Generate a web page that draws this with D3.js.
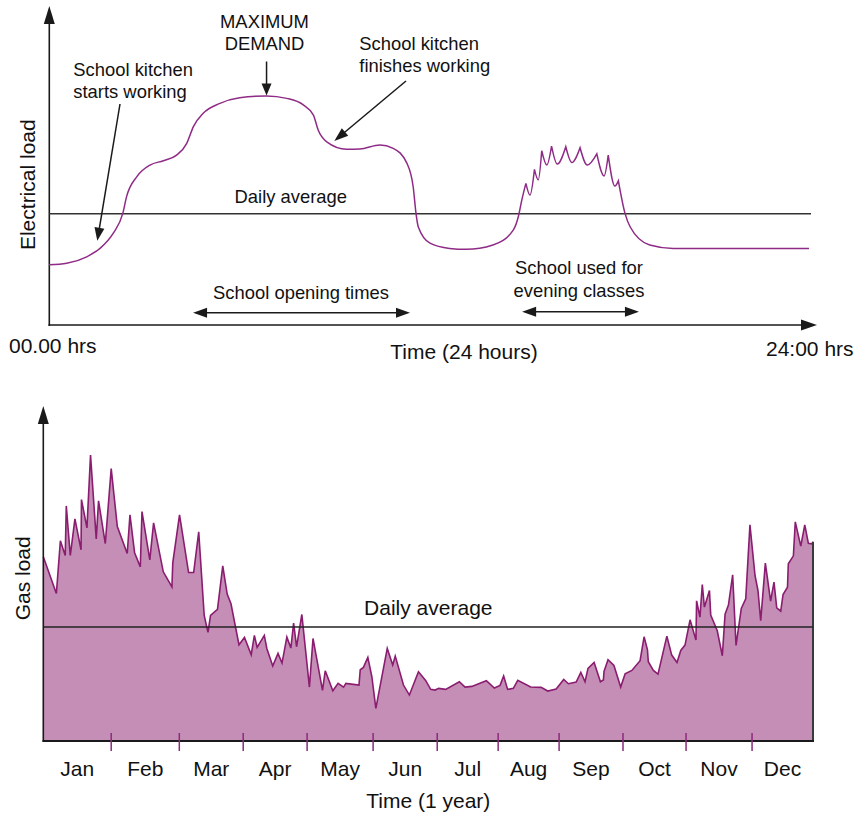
<!DOCTYPE html>
<html><head><meta charset="utf-8">
<script src="https://cdn.jsdelivr.net/npm/d3@7"></script>
<style>
body{margin:0;background:#fff}
svg{display:block}
text{font-family:"Liberation Sans",Arial,Helvetica,sans-serif;fill:#111}
</style>
</head><body>
<svg id="c" width="866" height="817"></svg>
<script>
// ---------- Top chart: electrical load over 24 hours ----------
const elecHours = [0,0.56,1.19,1.61,2.03,2.33,2.45,2.77,3.19,3.61,
  4.03,4.35,4.56,4.87,5.40,6.02,6.87,7.51,8.03,8.35,
  8.50,8.77,9.40,9.82,10.45,10.87,11.30,11.50,11.59,11.66,
  12.03,12.65,13.18,14.02,14.66,14.82,14.93,15.06,15.19,15.33,
  15.45,15.56,15.72,15.87,16.05,16.32,16.51,16.77,17.00,17.30,
  17.53,17.66,17.87,17.98,18.19,18.35,18.97,19.71,24];
const elecLoad = [19.4,19.9,22.0,24.7,29.6,36.0,41.4,47.8,51.6,53.0,
  54.8,58.6,64.0,68.3,71.5,73.3,73.9,73.1,71.0,67.7,
  62.9,59.1,56.7,56.8,58.1,57.0,52.2,44.6,36.0,31.7,
  26.4,24.7,24.4,25.8,30.6,34.9,40.3,45.7,41.9,50.2,
  46.8,56.2,51.6,57.7,51.9,57.5,52.4,57.2,51.6,55.2,
  48.1,54.8,44.8,46.5,36.0,31.7,25.8,24.7,24.7];
const elecPeakIdx = [37,39,41,43,45,47,49,51,53];
const elecAverage = 35.9;
const openingHours = [4.55, 11.4];
const eveningHours = [14.94, 18.63];
const maxDemandHour = 6.87;

// ---------- Bottom chart: gas load over one year ----------
const gasDays = [0,6.2,8.1,10.4,10.9,12.8,15.0,17.9,18.1,20.7,
  22.4,25.1,26.2,29.4,32.2,35.1,39.8,41.1,43.3,46.0,
  46.8,50.5,52.3,56.9,61.0,61.4,64.6,68.9,71.3,73.7,
  76.3,78.1,79.3,82.6,85.1,87.2,89.0,92.8,95.4,98.6,
  100.1,101.4,104.8,106.0,108.8,111.3,113.2,115.5,117.4,118.7,
  120.1,122.6,126.2,127.9,132.4,133.7,137.3,139.8,142.4,143.5,
  149.7,150.3,151.8,153.9,155.8,157.7,163.1,165.7,166.9,170.8,
  173.6,177.9,181.3,183.7,185.8,187.5,190.8,197.3,200.0,203.2,
  210.1,213.9,216.6,218.3,220.2,222.9,225.0,231.1,236.1,239.2,
  243.2,246.8,249.0,252.7,254.9,256.9,258.3,261.2,264.2,265.6,
  265.9,267.8,270.6,273.8,275.9,279.1,283.0,284.9,286.5,286.9,
  289.3,291.5,295.7,298.0,300.5,302.3,304.3,306.7,309.5,309.8,
  311.4,312.5,313.5,315.9,316.5,319.6,322.0,323.3,324.9,326.9,
  328.5,331.0,333.1,335.1,337.5,338.9,340.2,342.4,344.9,346.5,
  347.8,349.7,350.8,352.9,353.3,355.7,356.6,359.2,361.1,362.8,
  364.4,365];
const gasLoad = [55.3,44.3,60.1,55.7,70.6,55.7,66.7,57.4,72.5,64.0,
  85.9,60.7,72.1,59.3,81.8,64.4,56.3,67.9,56.5,52.3,
  68.9,54.4,65.5,50.8,46.3,53.5,67.9,50.6,50.6,62.8,
  37.7,32.6,37.7,39.5,52.6,44.1,41.2,28.9,31.1,25.9,
  31.7,28.1,31.7,27.8,22.5,26.3,23.4,31.2,27.9,35.4,
  28.3,38.0,16.2,30.8,15.2,21.1,15.1,17.3,16.2,17.3,
  16.8,21.4,22.1,25.1,19.3,9.8,27.8,22.8,25.5,16.8,
  13.8,20.8,18.2,15.5,15.3,15.8,15.5,17.8,16.2,16.4,
  18.1,15.9,16.7,19.5,15.5,15.8,18.2,16.2,16.1,15.0,
  15.6,18.5,17.2,17.7,20.6,17.8,21.8,23.6,17.8,18.3,
  20.9,24.4,22.7,16.2,20.2,21.2,24.1,31.3,27.4,23.8,
  21.2,20.1,31.5,25.8,23.6,27.2,28.8,36.4,30.3,42.1,
  37.2,47.0,40.2,45.2,37.8,33.1,25.6,38.1,40.8,49.9,
  28.7,39.8,42.7,64.9,49.7,45.2,36.1,53.4,42.0,47.7,
  40.0,39.0,44.0,46.2,53.2,55.6,65.8,58.5,64.9,59.4,
  59.2,59.8];
const gasAverage = 34.2;
const monthLabels = ["Jan","Feb","Mar","Apr","May","Jun","Jul","Aug","Sep","Oct","Nov","Dec"];
const monthBoundaries = [0,32.2,64.5,94.8,125.1,156.4,186.8,215.7,244.6,274.9,304.8,336.1,365];

// ---------- drawing ----------
const svg = d3.select("#c");
const INK = "#1a1a1a";
const PURPLE_LINE = "#8f2b86";
const GAS_LINE = "#8a1d6f";
const GAS_FILL = "#c48eb6";

function arrowHead(g, x1, y1, x2, y2, L, W) {
  const a = Math.atan2(y2 - y1, x2 - x1);
  const bx = x2 - L * Math.cos(a), by = y2 - L * Math.sin(a);
  const px = -Math.sin(a) * W / 2, py = Math.cos(a) * W / 2;
  g.append("path")
    .attr("d", `M${x2},${y2}L${bx + px},${by + py}L${bx - px},${by - py}Z`)
    .attr("fill", INK);
}
function arrow(g, x1, y1, x2, y2, L, W, both, sw) {
  const a = Math.atan2(y2 - y1, x2 - x1);
  const sx = both ? x1 + (L - 2) * Math.cos(a) : x1, sy = both ? y1 + (L - 2) * Math.sin(a) : y1;
  g.append("line")
    .attr("x1", sx).attr("y1", sy)
    .attr("x2", x2 - (L - 2) * Math.cos(a)).attr("y2", y2 - (L - 2) * Math.sin(a))
    .attr("stroke", INK).attr("stroke-width", sw || 1.5);
  arrowHead(g, x1, y1, x2, y2, L, W);
  if (both) arrowHead(g, x2, y2, x1, y1, L, W);
}

// ===== Top chart =====
const gTop = svg.append("g");
const xE = d3.scaleLinear().domain([0, 24]).range([49, 809]);
const yE = d3.scaleLinear().domain([0, 100]).range([325, 15]);

gTop.append("line").attr("x1", 49.3).attr("y1", 326).attr("x2", 49.3).attr("y2", 20)
  .attr("stroke", INK).attr("stroke-width", 1.6);
arrowHead(gTop, 49.3, 100, 49.3, 6, 18, 11);
gTop.append("line").attr("x1", 48.5).attr("y1", 325).attr("x2", 803).attr("y2", 325)
  .attr("stroke", INK).attr("stroke-width", 1.6);
arrowHead(gTop, 700, 325, 817, 325, 16, 11);

gTop.append("line").attr("x1", xE(0)).attr("x2", xE(24) + 2)
  .attr("y1", yE(elecAverage)).attr("y2", yE(elecAverage))
  .attr("stroke", "#333").attr("stroke-width", 1.4);

const elecPts = elecHours.map((h, i) => [h, elecLoad[i]]);
const cuts = [0, ...elecPeakIdx, elecPts.length - 1];
const lineE = d3.line().x(d => xE(d[0])).y(d => yE(d[1])).curve(d3.curveMonotoneX);
let dE = "";
for (let i = 0; i < cuts.length - 1; i++) {
  const seg = elecPts.slice(cuts[i], cuts[i + 1] + 1);
  const s = lineE(seg);
  dE += i === 0 ? s : "L" + s.slice(1);
}
gTop.append("path").attr("d", dE).attr("fill", "none")
  .attr("stroke", PURPLE_LINE).attr("stroke-width", 1.5);

const t18 = 18.4, t21 = 21;
gTop.append("text").attr("transform", "translate(35,184.7) rotate(-90)")
  .attr("text-anchor", "middle").attr("font-size", t21).text("Electrical load");
gTop.append("text").attr("x", 9).attr("y", 353).attr("font-size", t21).text("00.00 hrs");
gTop.append("text").attr("x", 464).attr("y", 359).attr("text-anchor", "middle").attr("font-size", t21).text("Time (24 hours)");
gTop.append("text").attr("x", 766).attr("y", 356).attr("font-size", t21).text("24:00 hrs");
gTop.append("text").attr("x", 290.8).attr("y", 202.7).attr("text-anchor", "middle").attr("font-size", t18).text("Daily average");

gTop.append("text").attr("x", 264.5).attr("y", 28.3).attr("text-anchor", "middle").attr("font-size", t18).text("MAXIMUM");
gTop.append("text").attr("x", 264.5).attr("y", 50).attr("text-anchor", "middle").attr("font-size", t18).text("DEMAND");
arrow(gTop, xE(maxDemandHour), 61.5, xE(maxDemandHour), yE(73.9) - 0.5, 12, 10, false, 1.5);

gTop.append("text").attr("x", 73.3).attr("y", 76).attr("font-size", t18).text("School kitchen");
gTop.append("text").attr("x", 73.3).attr("y", 98.3).attr("font-size", t18).text("starts working");
arrow(gTop, 120, 104, 97.3, 240.7, 13, 10, false, 1.5);

gTop.append("text").attr("x", 359.3).attr("y", 50).attr("font-size", t18).text("School kitchen");
gTop.append("text").attr("x", 359.3).attr("y", 72.3).attr("font-size", t18).text("finishes working");
arrow(gTop, 406, 81, 334.3, 141, 14, 10, false, 1.5);

gTop.append("text").attr("x", 301).attr("y", 299).attr("text-anchor", "middle").attr("font-size", t18).text("School opening times");
arrow(gTop, xE(openingHours[0]), 312.7, xE(openingHours[1]), 312.7, 14, 10, true, 1.6);

gTop.append("text").attr("x", 579).attr("y", 274).attr("text-anchor", "middle").attr("font-size", t18).text("School used for");
gTop.append("text").attr("x", 579).attr("y", 296.7).attr("text-anchor", "middle").attr("font-size", t18).text("evening classes");
arrow(gTop, xE(eveningHours[0]), 311.7, xE(eveningHours[1]), 311.7, 14, 10, true, 1.6);

// ===== Bottom chart =====
const gBot = svg.append("g");
const xG = d3.scaleLinear().domain([0, 365]).range([43.3, 813]);
const yG = d3.scaleLinear().domain([0, 100]).range([741, 408]);
const gasPts = gasDays.map((d, i) => [d, gasLoad[i]]);

gBot.append("path")
  .attr("d", d3.area().x(d => xG(d[0])).y0(yG(0)).y1(d => yG(d[1]))(gasPts))
  .attr("fill", GAS_FILL);
gBot.append("path")
  .attr("d", d3.line().x(d => xG(d[0])).y(d => yG(d[1]))(gasPts))
  .attr("fill", "none").attr("stroke", GAS_LINE).attr("stroke-width", 1.6);
gBot.append("line").attr("x1", xG(365)).attr("x2", xG(365))
  .attr("y1", yG(gasLoad[gasLoad.length - 1])).attr("y2", yG(0))
  .attr("stroke", "#3a3a3a").attr("stroke-width", 2);

gBot.append("line").attr("x1", xG(0)).attr("x2", xG(365))
  .attr("y1", yG(gasAverage)).attr("y2", yG(gasAverage))
  .attr("stroke", "#222").attr("stroke-width", 1.5);
gBot.append("text").attr("x", 428.3).attr("y", 615).attr("text-anchor", "middle")
  .attr("font-size", t21).text("Daily average");

gBot.append("line").attr("x1", xG(0)).attr("x2", xG(0)).attr("y1", yG(0) + 0.8).attr("y2", 420)
  .attr("stroke", INK).attr("stroke-width", 1.6);
arrowHead(gBot, xG(0), 500, xG(0), 406, 18, 11);
gBot.append("line").attr("x1", xG(0) - 0.8).attr("x2", xG(365) + 1).attr("y1", yG(0)).attr("y2", yG(0))
  .attr("stroke", INK).attr("stroke-width", 1.8);

gBot.selectAll("line.tick").data(monthBoundaries.slice(1, -1)).enter().append("line")
  .attr("class", "tick")
  .attr("x1", d => xG(d)).attr("x2", d => xG(d))
  .attr("y1", yG(0) - 8).attr("y2", yG(0) + 10)
  .attr("stroke", "#8c2a7c").attr("stroke-width", 1.5);
gBot.selectAll("text.month").data(monthLabels).enter().append("text")
  .attr("class", "month")
  .attr("x", (d, i) => (xG(monthBoundaries[i]) + xG(monthBoundaries[i + 1])) / 2)
  .attr("y", 776).attr("text-anchor", "middle").attr("font-size", t21).text(d => d);

gBot.append("text").attr("x", 428.3).attr("y", 808.3).attr("text-anchor", "middle")
  .attr("font-size", t21).text("Time (1 year)");
gBot.append("text").attr("transform", "translate(30,578.3) rotate(-90)")
  .attr("text-anchor", "middle").attr("font-size", t21).text("Gas load");
</script>
</body></html>
